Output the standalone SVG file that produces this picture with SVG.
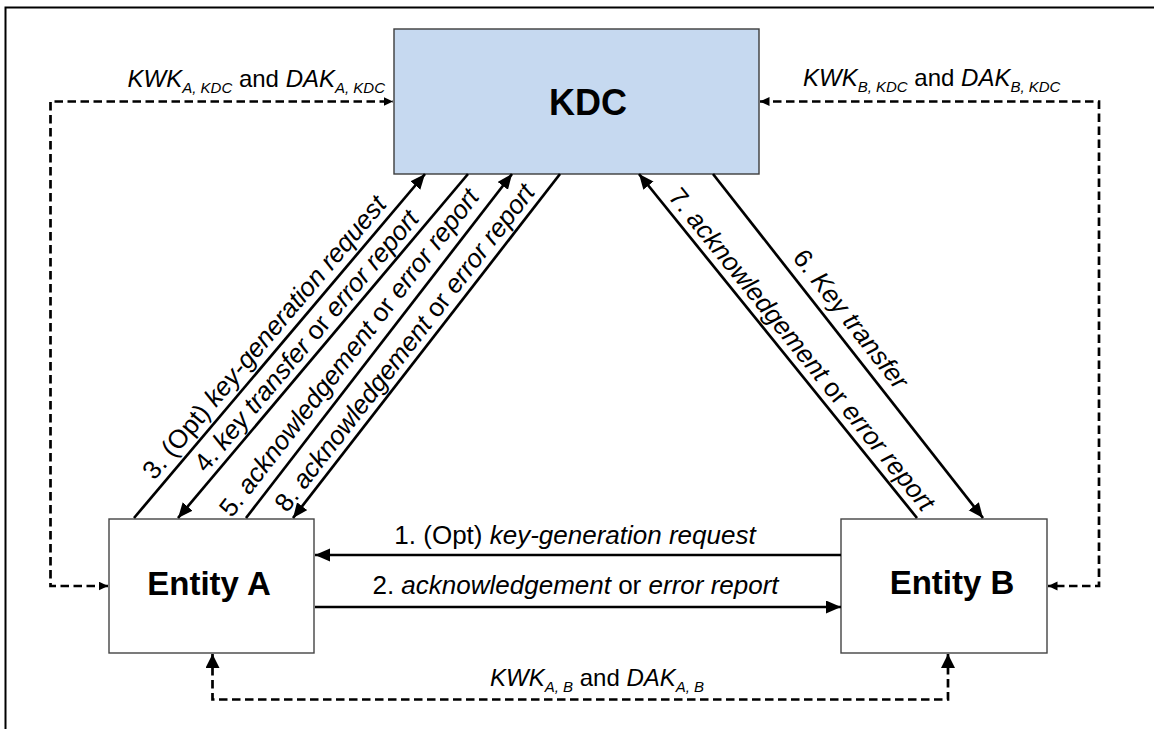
<svg xmlns="http://www.w3.org/2000/svg" width="1154" height="729" viewBox="0 0 1154 729">
<defs>
<style>
text{font-family:"Liberation Sans",Arial,sans-serif;fill:#000}
.lbl{font-size:26px}
.top{font-size:24px}
.it{font-style:italic}
.sub{font-size:15px;font-style:italic}
.node{font-size:33px;font-weight:bold}
.box{fill:#fff;stroke:#444;stroke-width:1.4}
.kdc{fill:#c6d9f0;stroke:#3c3c3c;stroke-width:1.4}
.solid{fill:none;stroke:#000;stroke-width:2.7}
.dash{fill:none;stroke:#000;stroke-width:2.7;stroke-dasharray:8.5 4.5}
</style>
<marker id="ah" markerUnits="userSpaceOnUse" markerWidth="16" markerHeight="14" refX="15" refY="6.5" orient="auto"><path d="M0,0 L15,6.5 L0,13 z" fill="#000"/></marker>
<marker id="ds" markerUnits="userSpaceOnUse" markerWidth="11" markerHeight="10" refX="9.5" refY="4.5" orient="auto-start-reverse"><path d="M0,0 L9.5,4.5 L0,9 z" fill="#000"/></marker>
<marker id="db" markerUnits="userSpaceOnUse" markerWidth="16" markerHeight="16" refX="14" refY="7" orient="auto-start-reverse"><path d="M0,0 L14,7 L0,14 z" fill="#000"/></marker>
</defs>
<rect width="1154" height="729" fill="#fff"/>
<path d="M5.5,729 V7.5 H1154" fill="none" stroke="#000" stroke-width="2"/>

<g id="node-kdc">
<rect class="kdc" x="394" y="29" width="365" height="145"/>
<text class="node" x="588" y="115" text-anchor="middle" style="font-size:36px">KDC</text>
</g>
<g id="node-entity-a">
<rect class="box" x="109" y="519" width="205" height="134"/>
<text class="node" x="209" y="595" text-anchor="middle">Entity A</text>
</g>
<g id="node-entity-b">
<rect class="box" x="841" y="519" width="206" height="134"/>
<text class="node" x="952" y="594" text-anchor="middle">Entity B</text>
</g>

<g id="connectors">
<path class="dash" d="M108,586 H50.5 V101.5 H393" marker-start="url(#ds)" marker-end="url(#ds)"/>
<path class="dash" d="M760,101.5 H1099 V586 H1048" marker-start="url(#ds)" marker-end="url(#ds)"/>
<path class="dash" d="M212.5,654 V699.5 H948 V654" marker-start="url(#db)" marker-end="url(#db)"/>
<path class="solid" d="M841,555 H315" marker-end="url(#ah)"/>
<path class="solid" d="M315,607 H841" marker-end="url(#ah)"/>
<path class="solid" d="M134,518 L425,174" marker-end="url(#ah)"/>
<path class="solid" d="M468,174 L178,518" marker-end="url(#ah)"/>
<path class="solid" d="M246,518 L512,174" marker-end="url(#ah)"/>
<path class="solid" d="M560,174 L293,518" marker-end="url(#ah)"/>
<path class="solid" d="M917,518 L639,174" marker-end="url(#ah)"/>
<path class="solid" d="M713,174 L983,518" marker-end="url(#ah)"/>

<text class="top" x="385" y="87" text-anchor="end"><tspan class="it">KWK</tspan><tspan class="sub" dy="6">A, KDC</tspan><tspan dy="-6"> and </tspan><tspan class="it">DAK</tspan><tspan class="sub" dy="6">A, KDC</tspan></text>
<text class="top" x="803" y="86"><tspan class="it">KWK</tspan><tspan class="sub" dy="6">B, KDC</tspan><tspan dy="-6"> and </tspan><tspan class="it">DAK</tspan><tspan class="sub" dy="6">B, KDC</tspan></text>
<text class="top" x="490" y="686"><tspan class="it">KWK</tspan><tspan class="sub" dy="6">A, B</tspan><tspan dy="-6"> and </tspan><tspan class="it">DAK</tspan><tspan class="sub" dy="6">A, B</tspan></text>

<text class="lbl" x="575" y="544" text-anchor="middle">1. (Opt) <tspan class="it">key-generation request</tspan></text>
<text class="lbl" x="575.5" y="594" text-anchor="middle">2. <tspan class="it">acknowledgement</tspan> or <tspan class="it">error report</tspan></text>

<text class="lbl" text-anchor="middle" transform="translate(271,343) rotate(-49.77)">3. (Opt) <tspan class="it">key-generation request</tspan></text>
<text class="lbl" text-anchor="middle" transform="translate(313,346.5) rotate(-49.87)">4. <tspan class="it">key transfer</tspan> or <tspan class="it">error report</tspan></text>
<text class="lbl" text-anchor="middle" transform="translate(356,358) rotate(-52.28)">5. <tspan class="it">acknowledgement</tspan> or <tspan class="it">error report</tspan></text>
<text class="lbl" text-anchor="middle" transform="translate(411.5,353) rotate(-52.18)">8. <tspan class="it">acknowledgement</tspan> or <tspan class="it">error report</tspan></text>
<text class="lbl" text-anchor="middle" transform="translate(795,355) rotate(51.06)">7. <tspan class="it">acknowledgement</tspan> or <tspan class="it">error report</tspan></text>
<text class="lbl" text-anchor="middle" transform="translate(844,324.5) rotate(51.87)">6. <tspan class="it">Key transfer</tspan></text>
</g>
</svg>
